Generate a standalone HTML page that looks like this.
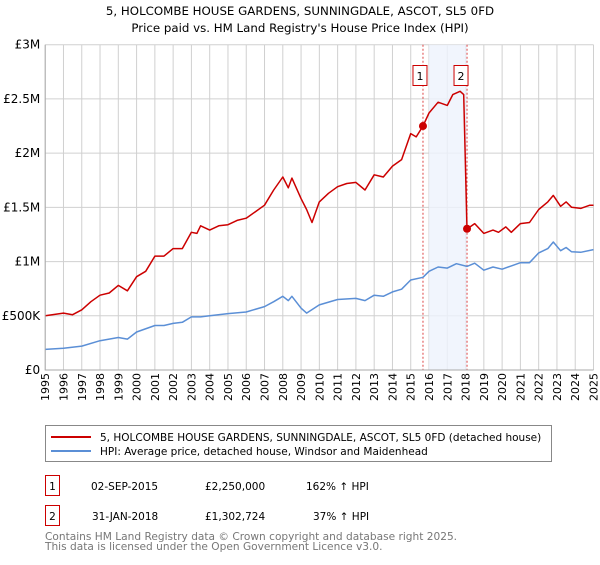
<!DOCTYPE html>
<html><head><meta charset="utf-8"><style>
body{margin:0;background:#fff;font-family:"Liberation Sans","DejaVu Sans",sans-serif;}
svg text{font-family:"DejaVu Sans","Liberation Sans",sans-serif;}
</style></head><body>
<svg id="c" width="600" height="560" xmlns="http://www.w3.org/2000/svg">
<text x="300" y="15" text-anchor="middle" font-size="11.8">5, HOLCOMBE HOUSE GARDENS, SUNNINGDALE, ASCOT, SL5 0FD</text>
<text x="300" y="32" text-anchor="middle" font-size="11.8">Price paid vs. HM Land Registry's House Price Index (HPI)</text>
<g id="grid"></g><g id="marks"></g><g id="axes"></g>
<rect x="45.5" y="425.5" width="506" height="36" fill="#fff" stroke="#888"/>
<line x1="51" y1="437" x2="91" y2="437" stroke="#cc0000" stroke-width="2"/>
<text x="100" y="441" font-size="10.5">5, HOLCOMBE HOUSE GARDENS, SUNNINGDALE, ASCOT, SL5 0FD (detached house)</text>
<line x1="51" y1="451" x2="91" y2="451" stroke="#5b8fd6" stroke-width="2"/>
<text x="100" y="455" font-size="10.5">HPI: Average price, detached house, Windsor and Maidenhead</text>
<g font-size="10.5">
<rect x="45.5" y="475.5" width="14" height="20" fill="none" stroke="#cc0000"/>
<text x="52.5" y="490" text-anchor="middle">1</text>
<text x="91" y="490">02-SEP-2015</text>
<text x="205" y="490">£2,250,000</text>
<text x="306" y="490">162% ↑ HPI</text>
<rect x="45.5" y="505.5" width="14" height="20" fill="none" stroke="#cc0000"/>
<text x="52.5" y="520" text-anchor="middle">2</text>
<text x="92" y="520">31-JAN-2018</text>
<text x="205" y="520">£1,302,724</text>
<text x="313" y="520">37% ↑ HPI</text>
</g>
<text x="45" y="540" font-size="10.6" fill="#777">Contains HM Land Registry data © Crown copyright and database right 2025.</text>
<text x="45" y="550" font-size="10.6" fill="#777">This data is licensed under the Open Government Licence v3.0.</text>
</svg>
<script>
const redYears=[1995,1996,1996.5,1997,1997.5,1998,1998.5,1999,1999.5,2000,2000.5,2001,2001.5,2002,2002.5,2003,2003.3,2003.5,2004,2004.5,2005,2005.5,2006,2006.5,2007,2007.5,2008,2008.3,2008.5,2009,2009.3,2009.6,2010,2010.5,2011,2011.5,2012,2012.5,2013,2013.5,2014,2014.5,2015,2015.3,2015.67,2016,2016.5,2017,2017.3,2017.7,2017.9,2018.08,2018.5,2019,2019.5,2019.8,2020.2,2020.5,2021,2021.5,2022,2022.5,2022.8,2023.2,2023.5,2023.8,2024.3,2024.8,2025];
const redValues=[0.50,0.525,0.51,0.555,0.63,0.69,0.71,0.78,0.73,0.86,0.91,1.05,1.05,1.12,1.12,1.27,1.26,1.33,1.29,1.33,1.34,1.38,1.40,1.46,1.52,1.66,1.78,1.68,1.77,1.58,1.48,1.36,1.55,1.63,1.69,1.72,1.73,1.66,1.80,1.78,1.88,1.94,2.18,2.15,2.25,2.37,2.47,2.44,2.54,2.57,2.54,1.30,1.35,1.26,1.29,1.27,1.32,1.27,1.35,1.36,1.48,1.55,1.61,1.51,1.55,1.50,1.49,1.52,1.52];
const hpiYears=[1995,1996,1997,1998,1999,1999.5,2000,2001,2001.5,2002,2002.5,2003,2003.5,2004,2005,2006,2007,2007.5,2008,2008.3,2008.5,2009,2009.3,2010,2011,2012,2012.5,2013,2013.5,2014,2014.5,2015,2015.67,2016,2016.5,2017,2017.5,2018.08,2018.5,2019,2019.5,2020,2020.5,2021,2021.5,2022,2022.5,2022.8,2023.2,2023.5,2023.8,2024.3,2025];
const hpiValues=[0.19,0.20,0.22,0.27,0.30,0.285,0.35,0.41,0.41,0.43,0.44,0.49,0.49,0.50,0.52,0.535,0.585,0.63,0.68,0.64,0.68,0.57,0.525,0.60,0.65,0.66,0.64,0.69,0.68,0.72,0.745,0.83,0.855,0.91,0.95,0.94,0.98,0.955,0.985,0.92,0.95,0.93,0.96,0.99,0.99,1.08,1.12,1.18,1.10,1.13,1.09,1.085,1.11];
const saleYears=[2015.67,2018.08];
const saleValues=[2.25,1.302724];
const saleLabels=["1","2"];
const yTicks=[0,0.5,1,1.5,2,2.5,3];
const yTickLabels=["£0","£500K","£1M","£1.5M","£2M","£2.5M","£3M"];
const xTicks=[1995,1996,1997,1998,1999,2000,2001,2002,2003,2004,2005,2006,2007,2008,2009,2010,2011,2012,2013,2014,2015,2016,2017,2018,2019,2020,2021,2022,2023,2024,2025];

const X0=45.2,X1=593.5,Y0=370,Y1=44.7;
const xs=y=>X0+(y-1995)/30*(X1-X0);
const ys=v=>Y0-v/3*(Y0-Y1);
const NS="http://www.w3.org/2000/svg";
function mk(t,a,p){const e=document.createElementNS(NS,t);for(const k in a)e.setAttribute(k,a[k]);p.appendChild(e);return e;}
const grid=document.getElementById('grid'),marks=document.getElementById('marks'),axes=document.getElementById('axes');
xTicks.forEach(t=>{const l=mk('line',{x1:xs(t),x2:xs(t),y1:Y1,y2:Y0,stroke:'#d0d0d0','stroke-width':1},grid);


const tx=mk('text',{x:0,y:0,'font-size':11,'text-anchor':'end',transform:`translate(${xs(t)+4},${Y0+3}) rotate(-90)`},axes);tx.textContent=t;

});
yTicks.forEach((t,i)=>{const l=mk('line',{x1:X0,x2:X1,y1:ys(t),y2:ys(t),stroke:'#d0d0d0','stroke-width':1},grid);


const tx=mk('text',{x:X0-5,y:ys(t)+4,'font-size':12,'text-anchor':'end'},axes);tx.textContent=yTickLabels[i];

});
const sh=mk('rect',{x:xs(2016),y:Y1,width:xs(saleYears[1])-xs(2016),height:Y0-Y1,fill:'#eef3fc',opacity:0.8},grid);


saleYears.forEach((sy,i)=>{const l=mk('line',{x1:xs(sy),x2:xs(sy),y1:Y1,y2:Y0,stroke:'#dd4444','stroke-dasharray':'2,2','stroke-width':1},grid);


const r=mk('rect',{x:xs(sy)-10+(i?-3:0),y:65.5,width:14,height:20,fill:'#fff',stroke:'#cc0000'},marks);


const tx=mk('text',{x:xs(sy)-3+(i?-3:0),y:80,'font-size':11,'text-anchor':'middle'},marks);tx.textContent=saleLabels[i];

});
function line(xa,va,col,name){const d=xa.map((x,i)=>(i?'L':'M')+xs(x).toFixed(1)+','+ys(va[i]).toFixed(1)).join('');
const p=mk('path',{d:d,fill:'none',stroke:col,'stroke-width':1.5,'stroke-linejoin':'round'},marks);

}
line(hpiYears,hpiValues,'#5b8fd6','hpi-line');
line(redYears,redValues,'#cc0000','property-price-line');
saleYears.forEach((sy,i)=>{const c=mk('circle',{cx:xs(sy),cy:ys(saleValues[i]),r:4,fill:'#cc0000'},marks);

});
const ax=mk('path',{d:`M${X0},${Y1}V${Y0}H${X1}`,fill:'none',stroke:'#aaa'},axes);


</script>
</body></html>
